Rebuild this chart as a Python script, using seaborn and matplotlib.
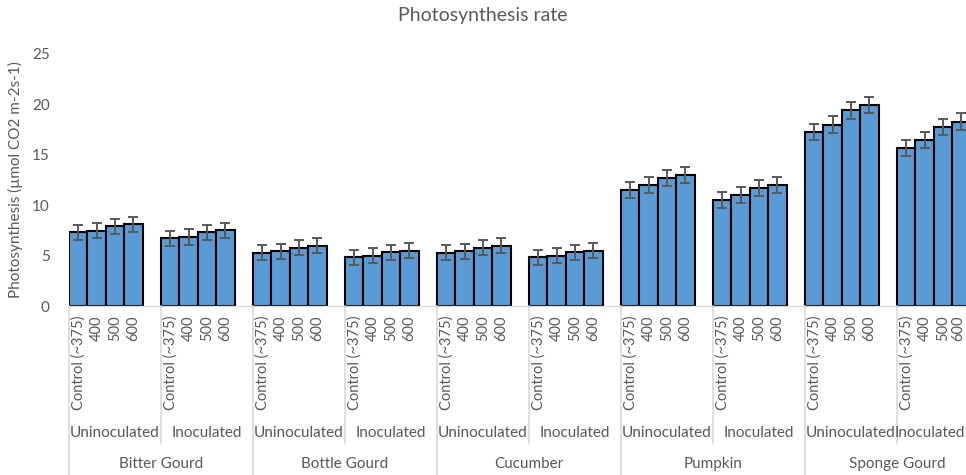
import matplotlib
matplotlib.use("Agg")
import matplotlib.pyplot as plt
import matplotlib.transforms as mtransforms
import seaborn as sns
import pandas as pd

crops = ["Bitter Gourd", "Bottle Gourd", "Cucumber", "Pumpkin", "Sponge Gourd"]
treatments = ["Uninoculated", "Inoculated"]
levels = ["Control (~375)", "400", "500", "600"]

bitter_unin = [7.3, 7.45, 7.9, 8.1]
bitter_inoc = [6.7, 6.85, 7.3, 7.5]
bottle_unin = [5.3, 5.45, 5.8, 6.0]
bottle_inoc = [4.85, 5.0, 5.35, 5.5]
cucumber_unin = [5.3, 5.45, 5.8, 6.0]
cucumber_inoc = [4.85, 5.0, 5.35, 5.5]
pumpkin_unin = [11.5, 12.0, 12.7, 13.0]
pumpkin_inoc = [10.55, 11.0, 11.7, 12.0]
sponge_unin = [17.3, 18.0, 19.4, 19.9]
sponge_inoc = [15.7, 16.5, 17.75, 18.3]

errors_low = [0.75, 0.75, 0.75, 0.75]
errors_high = [0.8, 0.8, 0.8, 0.8]

series = {
    ("Bitter Gourd", "Uninoculated"): (bitter_unin, errors_low),
    ("Bitter Gourd", "Inoculated"): (bitter_inoc, errors_low),
    ("Bottle Gourd", "Uninoculated"): (bottle_unin, errors_low),
    ("Bottle Gourd", "Inoculated"): (bottle_inoc, errors_low),
    ("Cucumber", "Uninoculated"): (cucumber_unin, errors_low),
    ("Cucumber", "Inoculated"): (cucumber_inoc, errors_low),
    ("Pumpkin", "Uninoculated"): (pumpkin_unin, errors_high),
    ("Pumpkin", "Inoculated"): (pumpkin_inoc, errors_high),
    ("Sponge Gourd", "Uninoculated"): (sponge_unin, errors_high),
    ("Sponge Gourd", "Inoculated"): (sponge_inoc, errors_high),
}

# Build table; each subgroup has 4 levels plus one empty slot (as in the original)
rows = []
order = []
tick_labels = []
for c in crops:
    for t in treatments:
        vals, errs = series[(c, t)]
        for lv, v, e in zip(levels, vals, errs):
            key = f"{c}|{t}|{lv}"
            rows.append({"slot": key, "value": v, "err": e})
            order.append(key)
            tick_labels.append(lv)
        order.append(f"{c}|{t}|")
        tick_labels.append("")
df = pd.DataFrame(rows)

sns.set_theme(style="white")
plt.rcParams["font.family"] = ["Lato", "DejaVu Sans"]

fig = plt.figure(figsize=(9.66, 4.75), dpi=100)
W, H = 966, 475
ax_left, ax_right, ax_bottom, ax_top = 69, 989, 306, 54
ax = fig.add_axes([ax_left / W, (H - ax_bottom) / H,
                   (ax_right - ax_left) / W, (ax_bottom - ax_top) / H])

sns.barplot(data=df, x="slot", y="value", order=order, color="#5B9BD5",
            width=1.0, edgecolor="black", linewidth=1.5, errorbar=None,
            saturation=1, ax=ax)

pos = [order.index(s) for s in df["slot"]]
ax.errorbar(pos, df["value"], yerr=df["err"], fmt="none", ecolor="#595959",
            elinewidth=1.4, capsize=3.5, capthick=1.4, zorder=5)

ax.set_xlim(-0.5, len(order) - 0.5)
ax.set_ylim(0, 25)
ax.set_yticks([0, 5, 10, 15, 20, 25])
ax.tick_params(axis="y", length=0, labelsize=11, labelcolor="#595959", pad=14)
ax.set_xticks(range(len(order)))
ax.set_xticklabels(tick_labels, rotation=90, fontsize=10.5, color="#595959",
                   ha="center", va="top")
ax.tick_params(axis="x", length=0, pad=7)
ax.set_xlabel("")
ax.set_ylabel("Photosynthesis (µmol CO2 m-2s-1)", fontsize=11, color="#595959",
              labelpad=6)
for s in ["top", "right", "left"]:
    ax.spines[s].set_visible(False)
ax.spines["bottom"].set_color("#D9D9D9")
ax.spines["bottom"].set_linewidth(1.0)

trans = mtransforms.blended_transform_factory(ax.transData, ax.transAxes)
h = ax_bottom - ax_top
mid_y = -(433 - ax_bottom) / h
top_y = -(464 - ax_bottom) / h
mid_line_end = -(443 - ax_bottom) / h
crop_line_end = -(H - ax_bottom) / h

slots_per_treat = len(levels) + 1
slots_per_crop = slots_per_treat * len(treatments)
edge_texts = []
for ci, c in enumerate(crops):
    start = ci * slots_per_crop - 0.5
    ax.plot([start, start], [0, crop_line_end], color="#D9D9D9", lw=1.2,
            transform=trans, clip_on=False)
    for ti, t in enumerate(treatments):
        s0 = start + ti * slots_per_treat
        if ti > 0:
            ax.plot([s0, s0], [0, mid_line_end], color="#D9D9D9", lw=1.2,
                    transform=trans, clip_on=False)
        txt = ax.text(s0 + slots_per_treat / 2, mid_y, t, transform=trans,
                      ha="center", va="center", fontsize=11, color="#595959")
        edge_texts.append(txt)
    ax.text(start + slots_per_crop / 2, top_y, c, transform=trans,
            ha="center", va="center", fontsize=11, color="#595959")
end = len(crops) * slots_per_crop - 0.5
ax.plot([end, end], [0, crop_line_end], color="#D9D9D9", lw=1.2,
        transform=trans, clip_on=False)

fig.text(0.5, 1 - 16 / H, "Photosynthesis rate", ha="center", va="center",
         fontsize=14, color="#595959")

# keep labels inside the visible figure (as the original does)
fig.canvas.draw()
renderer = fig.canvas.get_renderer()
for txt in edge_texts + list(ax.get_xticklabels()):
    if not txt.get_text():
        continue
    bb = txt.get_window_extent(renderer)
    if bb.x1 > W - 1:
        shift_px = bb.x1 - (W - 1)
        txt.set_transform(txt.get_transform() + mtransforms.ScaledTranslation(
            -shift_px / fig.dpi, 0, fig.dpi_scale_trans))

fig.savefig("out.png", dpi=100)
